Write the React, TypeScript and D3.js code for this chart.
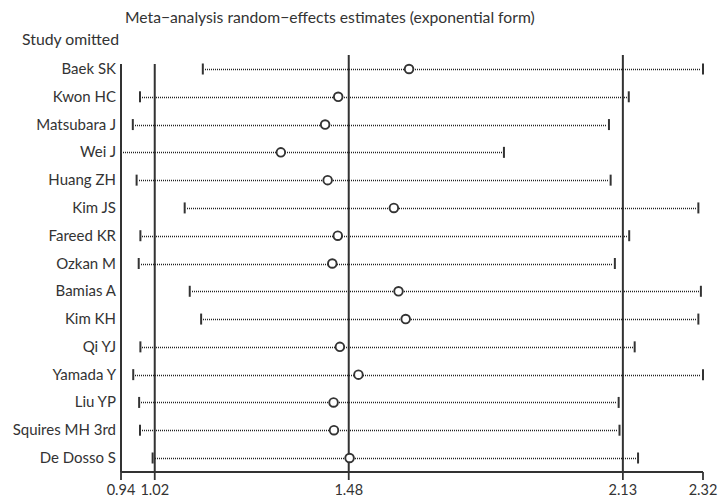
import React from "react";
import * as d3 from "d3";

const studies = ["Baek SK","Kwon HC","Matsubara J","Wei J","Huang ZH","Kim JS","Fareed KR","Ozkan M","Bamias A","Kim KH","Qi YJ","Yamada Y","Liu YP","Squires MH 3rd","De Dosso S"];
const estimates = [1.623,1.455,1.424,1.319,1.430,1.587,1.454,1.441,1.598,1.615,1.459,1.503,1.444,1.445,1.482];
const lowers = [1.134,0.985,0.968,0.94,0.977,1.091,0.986,0.982,1.103,1.130,0.986,0.969,0.983,0.985,1.015];
const uppers = [2.32,2.144,2.097,1.848,2.101,2.309,2.145,2.111,2.315,2.309,2.158,2.32,2.120,2.122,2.166];
const tickValues = [0.94,1.02,1.48,2.13,2.32];
const refLines = [1.02,1.48,2.13];
const refTops = [64,55,55];

const W = 721, H = 501;
const FONT = "Lato, 'Open Sans', sans-serif";
const INK = "#333";

export default function App() {
  const x = d3.scaleLinear().domain([0.94, 2.32]).range([121, 703]);
  const y = d3.scalePoint<string>().domain(studies).range([69, 458]);
  const axisY = 472;
  return (
    <svg width={W} height={H} style={{ position: "absolute", left: 0, top: 0, background: "#fff" }} fontFamily={FONT}>
      <rect width={W} height={H} fill="#fff" />
      <text x={125} y={23} fontSize={15.7} fill={INK}>Meta−analysis random−effects estimates (exponential form)</text>
      <text x={22} y={45} fontSize={15.8} fill={INK}>Study omitted</text>
      <line x1={x(0.94)} x2={x(0.94)} y1={64} y2={axisY} stroke={INK} strokeWidth={2} />
      {refLines.map((v, i) => (
        <line key={v} x1={x(v)} x2={x(v)} y1={refTops[i]} y2={axisY} stroke={INK} strokeWidth={2} />
      ))}
      <line x1={x(0.94)} x2={x(2.32)} y1={axisY} y2={axisY} stroke={INK} strokeWidth={2} />
      {tickValues.map(v => (
        <g key={v}>
          <line x1={x(v)} x2={x(v)} y1={axisY} y2={axisY + 8} stroke={INK} strokeWidth={1.8} />
          <text x={x(v)} y={axisY + 23} fontSize={14.5} textAnchor="middle" fill={INK}>{v.toFixed(2)}</text>
        </g>
      ))}
      {studies.map((s, i) => {
        const yy = y(s)!;
        const yl = Math.round(yy) + 0.5;
        const xl = Math.round(x(lowers[i])) + 2;
        const xu = Math.round(x(uppers[i])) - 2;
        return (
          <g key={s}>
            <text x={116} y={yy + 5} fontSize={15} textAnchor="end" fill={INK}>{s}</text>
            <line x1={xl} x2={xu} y1={yl} y2={yl} stroke="#222" strokeWidth={1.3} strokeDasharray="1,1" />
            <line x1={x(lowers[i])} x2={x(lowers[i])} y1={yy - 5.5} y2={yy + 5.5} stroke={INK} strokeWidth={2} />
            <line x1={x(uppers[i])} x2={x(uppers[i])} y1={yy - 5.5} y2={yy + 5.5} stroke={INK} strokeWidth={2} />
            <circle cx={x(estimates[i])} cy={yy} r={4.3} fill="#fff" stroke={INK} strokeWidth={1.9} />
          </g>
        );
      })}
    </svg>
  );
}
